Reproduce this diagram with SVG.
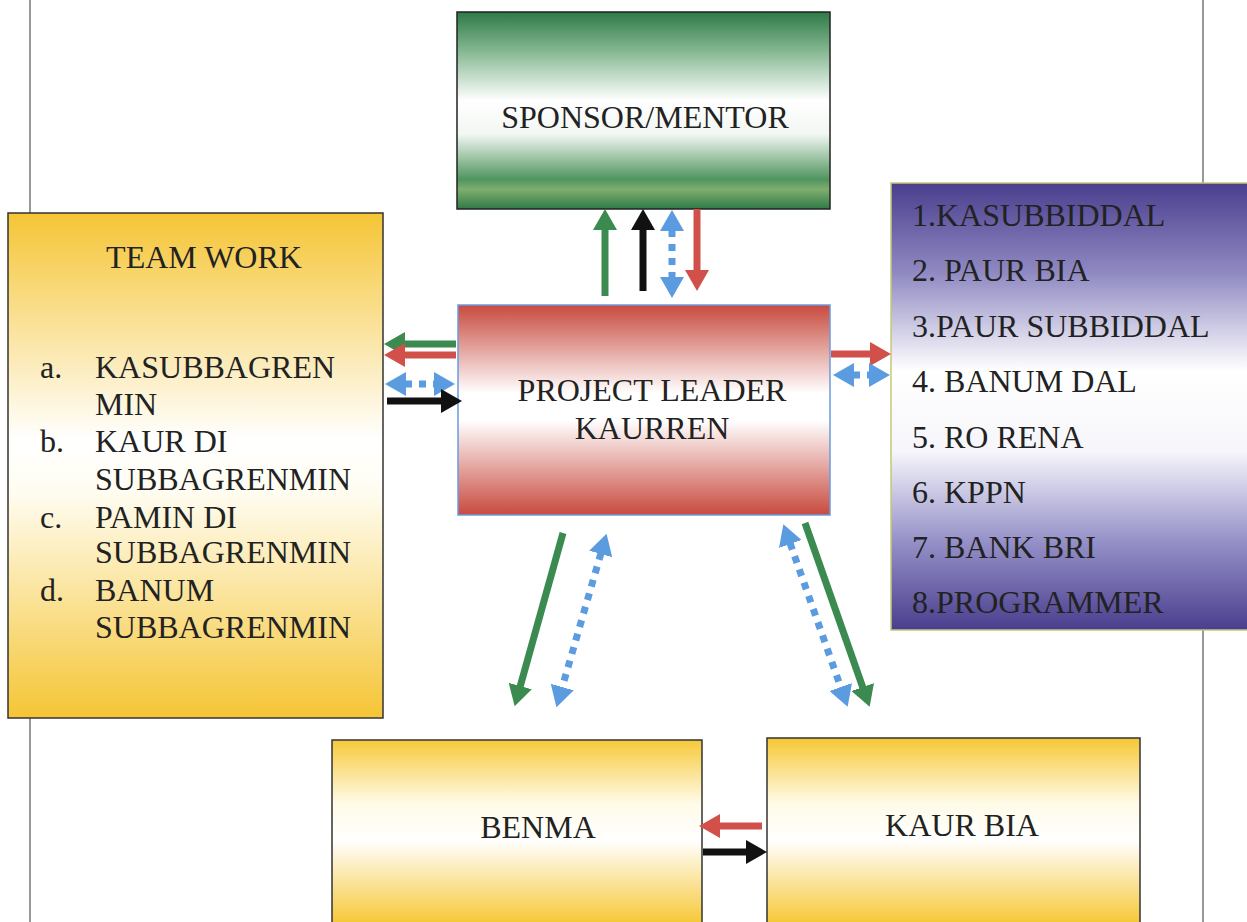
<svg xmlns="http://www.w3.org/2000/svg" width="1247" height="922" viewBox="0 0 1247 922">
<style>
text{font-family:"Liberation Serif","DejaVu Serif","Times New Roman",serif;font-size:32px;fill:#222}
.c{text-anchor:middle}
.box{stroke-width:1.5}
.sh{fill:none;stroke-width:7}
.g{stroke:#3b8a4f}.r{stroke:#d2504a}.k{stroke:#111}.b{stroke:#5b9be0;stroke-dasharray:7 7}
</style>
<defs>
<linearGradient id="gGreen" x1="0" y1="0" x2="0" y2="1">
<stop offset="0" stop-color="#2e7a46"/><stop offset="0.2" stop-color="#86b892"/><stop offset="0.45" stop-color="#ffffff"/><stop offset="0.62" stop-color="#f2f7f3"/><stop offset="0.85" stop-color="#4f955f"/><stop offset="0.9" stop-color="#7fae6e"/><stop offset="1" stop-color="#2f7a47"/>
</linearGradient>
<linearGradient id="gRed" x1="0" y1="0" x2="0" y2="1">
<stop offset="0" stop-color="#c84a3e"/><stop offset="0.42" stop-color="#ffffff"/><stop offset="0.55" stop-color="#ffffff"/><stop offset="1" stop-color="#c84a3e"/>
</linearGradient>
<linearGradient id="gYel" x1="0" y1="0" x2="0" y2="1">
<stop offset="0" stop-color="#f5c535"/><stop offset="0.45" stop-color="#ffffff"/><stop offset="0.55" stop-color="#fffdf2"/><stop offset="1" stop-color="#f5c535"/>
</linearGradient>
<linearGradient id="gYel2" gradientUnits="userSpaceOnUse" x1="0" y1="740" x2="0" y2="922">
<stop offset="0" stop-color="#f6c93a"/><stop offset="0.35" stop-color="#fffbe8"/><stop offset="0.55" stop-color="#ffffff"/><stop offset="1" stop-color="#f6c93a"/>
</linearGradient>
<linearGradient id="gPur" x1="0" y1="0" x2="0" y2="1">
<stop offset="0" stop-color="#4a3e8e"/><stop offset="0.2" stop-color="#8f89c2"/><stop offset="0.42" stop-color="#ffffff"/><stop offset="0.6" stop-color="#f6f6fb"/><stop offset="0.8" stop-color="#9691c8"/><stop offset="1" stop-color="#4a3e8e"/>
</linearGradient>
<marker id="hG" markerUnits="userSpaceOnUse" markerWidth="22" markerHeight="24" refX="1" refY="12" orient="auto-start-reverse"><path d="M0,0 L21,12 L0,24 z" fill="#3b8a4f"/></marker>
<marker id="hR" markerUnits="userSpaceOnUse" markerWidth="22" markerHeight="24" refX="1" refY="12" orient="auto-start-reverse"><path d="M0,0 L21,12 L0,24 z" fill="#d2504a"/></marker>
<marker id="hK" markerUnits="userSpaceOnUse" markerWidth="22" markerHeight="24" refX="1" refY="12" orient="auto-start-reverse"><path d="M0,0 L21,12 L0,24 z" fill="#111"/></marker>
<marker id="hB" markerUnits="userSpaceOnUse" markerWidth="22" markerHeight="24" refX="1" refY="12" orient="auto-start-reverse"><path d="M0,0 L21,12 L0,24 z" fill="#5b9be0"/></marker>
</defs>
<g id="page-lines" stroke="#555" stroke-width="1.2">
<line x1="30" y1="0" x2="30" y2="922"/>
<line x1="1203" y1="0" x2="1203" y2="922"/>
</g>
<g id="sponsor">
<rect class="box" x="457" y="12" width="373" height="197" fill="url(#gGreen)" stroke="#222"/>
<text class="c" x="645" y="128">SPONSOR/MENTOR</text>
</g>
<g id="teamwork">
<rect class="box" x="8" y="213" width="375" height="505" fill="url(#gYel)" stroke="#333"/>
<text class="c" x="204" y="268">TEAM WORK</text>
<text x="40" y="378">a.</text><text x="95" y="378">KASUBBAGREN</text>
<text x="95" y="415">MIN</text>
<text x="40" y="452">b.</text><text x="95" y="452">KAUR DI</text>
<text x="95" y="490">SUBBAGRENMIN</text>
<text x="40" y="528">c.</text><text x="95" y="528">PAMIN DI</text>
<text x="95" y="563">SUBBAGRENMIN</text>
<text x="40" y="601">d.</text><text x="95" y="601">BANUM</text>
<text x="95" y="638">SUBBAGRENMIN</text>
</g>
<g id="leader">
<rect class="box" x="458" y="305" width="372" height="210" fill="url(#gRed)" stroke="#6a9be0"/>
<text class="c" x="652" y="401">PROJECT LEADER</text>
<text class="c" x="652" y="439">KAURREN</text>
</g>
<g id="stakeholders">
<rect class="box" x="891" y="183" width="360" height="447" fill="url(#gPur)" stroke="#c6c878"/>
<text x="912" y="226">1.KASUBBIDDAL</text>
<text x="912" y="281">2. PAUR BIA</text>
<text x="912" y="337">3.PAUR SUBBIDDAL</text>
<text x="912" y="392">4. BANUM DAL</text>
<text x="912" y="448">5. RO RENA</text>
<text x="912" y="503">6. KPPN</text>
<text x="912" y="558">7. BANK BRI</text>
<text x="912" y="613">8.PROGRAMMER</text>
</g>
<g id="benma">
<rect class="box" x="332" y="740" width="370" height="200" fill="url(#gYel2)" stroke="#333"/>
<text class="c" x="538" y="838">BENMA</text>
</g>
<g id="kaurbia">
<rect class="box" x="767" y="738" width="373" height="202" fill="url(#gYel2)" stroke="#333"/>
<text class="c" x="962" y="836">KAUR BIA</text>
</g>
<g id="connectors">
<line class="sh g" x1="605" y1="296" x2="605" y2="229" marker-end="url(#hG)"/>
<line class="sh k" x1="643" y1="291" x2="643" y2="229" marker-end="url(#hK)"/>
<line class="sh b" x1="672" y1="230" x2="672" y2="278" marker-start="url(#hB)" marker-end="url(#hB)"/>
<line class="sh r" x1="697" y1="209" x2="697" y2="271" marker-end="url(#hR)"/>
<line class="sh g" x1="456" y1="344" x2="404" y2="344" marker-end="url(#hG)"/>
<line class="sh r" x1="456" y1="355" x2="404" y2="355" marker-end="url(#hR)"/>
<line class="sh b" x1="405" y1="384" x2="435" y2="384" marker-start="url(#hB)" marker-end="url(#hB)"/>
<line class="sh k" x1="387" y1="401" x2="442" y2="401" marker-end="url(#hK)"/>
<line class="sh r" x1="831" y1="354" x2="871" y2="354" marker-end="url(#hR)"/>
<line class="sh b" x1="853" y1="375" x2="870" y2="375" marker-start="url(#hB)" marker-end="url(#hB)"/>
<line class="sh g" x1="563" y1="533" x2="520" y2="687" marker-end="url(#hG)"/>
<line class="sh b" x1="601" y1="553" x2="562" y2="688" marker-start="url(#hB)" marker-end="url(#hB)"/>
<line class="sh b" x1="790" y1="543" x2="841" y2="688" marker-start="url(#hB)" marker-end="url(#hB)"/>
<line class="sh g" x1="805" y1="523" x2="863" y2="688" marker-end="url(#hG)"/>
<line class="sh r" x1="762" y1="826" x2="719" y2="826" marker-end="url(#hR)"/>
<line class="sh k" x1="703" y1="852" x2="747" y2="852" marker-end="url(#hK)"/>
</g>
</svg>
